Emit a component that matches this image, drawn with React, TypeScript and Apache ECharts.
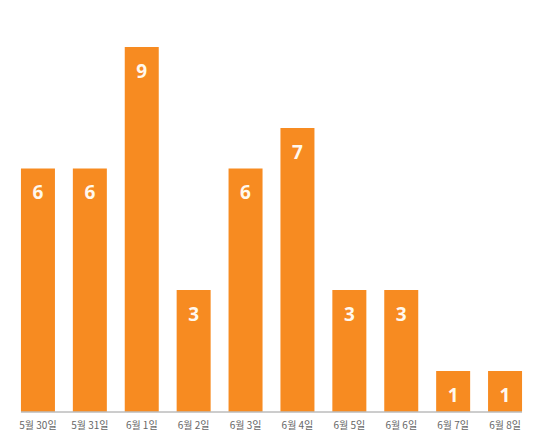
import React, { useEffect, useRef } from "react";
import * as echarts from "echarts";

const categories = [
  "5월 30일",
  "5월 31일",
  "6월 1일",
  "6월 2일",
  "6월 3일",
  "6월 4일",
  "6월 5일",
  "6월 6일",
  "6월 7일",
  "6월 8일",
];
const counts = [6, 6, 9, 3, 6, 7, 3, 3, 1, 1];

const BAR_COLOR = "#F78B21";
const BAR_WIDTH = 34;

export default function App() {
  const ref = useRef<HTMLDivElement>(null);

  useEffect(() => {
    document.body.style.margin = "0";
    if (!ref.current) return;
    const chart = echarts.init(ref.current, null, { renderer: "svg" });
    chart.setOption({
      animation: false,
      grid: { left: 12, right: 10, top: 6.5, bottom: 36.5 },
      xAxis: {
        type: "category",
        data: categories,
        axisLine: { show: false },
        axisTick: { show: false },
        axisLabel: {
          color: "#666",
          fontSize: 10,
          margin: 8,
          fontFamily: "'Noto Sans CJK KR', 'Noto Sans', sans-serif",
        },
      },
      yAxis: {
        type: "value",
        min: 0,
        max: 10,
        show: false,
        splitLine: { show: false },
      },
      series: [
        {
          type: "bar",
          data: counts,
          barWidth: BAR_WIDTH,
          itemStyle: { color: BAR_COLOR },
          label: {
            show: true,
            position: "insideTop",
            distance: 14,
            color: "#FFF8EE",
            fontSize: 19,
            fontWeight: "bold",
            fontFamily: "'Noto Sans', sans-serif",
          },
        },
      ],
    });

    // Baseline spanning from the first bar's left edge to the last bar's right edge
    const first = chart.convertToPixel({ gridIndex: 0 }, [0, 0]) as number[];
    const last = chart.convertToPixel(
      { gridIndex: 0 },
      [categories.length - 1, 0]
    ) as number[];
    chart.setOption({
      graphic: [
        {
          type: "line",
          z: 10,
          shape: {
            x1: first[0] - BAR_WIDTH / 2,
            y1: first[1] + 0.5,
            x2: last[0] + BAR_WIDTH / 2,
            y2: last[1] + 0.5,
          },
          style: { stroke: "#9a9a9a", lineWidth: 1 },
        },
      ],
    });

    return () => chart.dispose();
  }, []);

  return <div ref={ref} style={{ width: 541, height: 448 }} />;
}
